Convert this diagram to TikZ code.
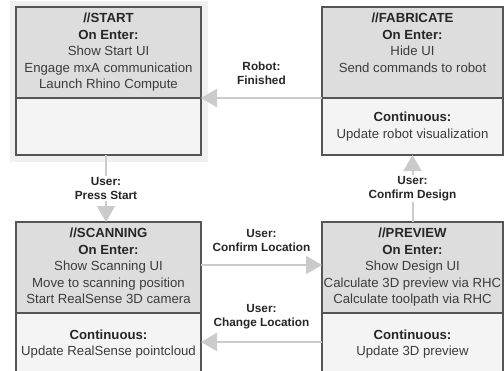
\documentclass[tikz,border=0pt]{standalone}
\usepackage{fontspec}
\setmainfont{Liberation Sans}
\usepackage{tikz}
\usetikzlibrary{arrows.meta}
\usetikzlibrary{positioning}
\usetikzlibrary{fit,backgrounds}

\definecolor{boxline}{HTML}{555555}
\definecolor{enterfill}{HTML}{DDDDDD}
\definecolor{contfill}{HTML}{F4F4F4}
\definecolor{arrowgray}{HTML}{CBCBCB}
\definecolor{inktext}{HTML}{3C3C3C}
\newcommand{\statehead}[1]{{\color{black!85}\bfseries #1}}

\begin{document}
\begin{tikzpicture}[x=1pt,y=-1pt,
  enter part/.style={draw=boxline,fill=enterfill,line width=1.2pt,outer sep=0pt,minimum height=91pt},
  cont part/.style={draw=boxline,fill=contfill,line width=1.2pt,outer sep=0pt,minimum height=57pt,
    text=inktext,align=center,font=\fontsize{13.2}{16.5}\selectfont},
  box text/.style={inner sep=0pt,align=center,text=inktext,font=\fontsize{13.2}{16.5}\selectfont},
  trans/.style={draw=arrowgray,line width=2pt,-{Triangle[length=16pt,width=18pt]}},
  trans label/.style={inner sep=0pt,align=center,text=black!85,font=\fontsize{11.8}{14}\selectfont\bfseries},
  halo/.style={fill=black!6,draw=none}]

  \useasboundingbox (0,0) rectangle (504,370);
  \clip (0,0) rectangle (504,370);

  % states
  \node[enter part,minimum width=185pt] (start) at (108.5,52.5) {};
  \node[cont part,minimum width=185pt] (startc) [below=0pt of start] {};
  \node[enter part,minimum width=181pt] (fab) at (412.5,52.5) {};
  \node[cont part,minimum width=181pt] (fabc) [below=0pt of fab] {\statehead{Continuous:}\\Update robot visualization};
  \node[enter part,minimum width=185pt] (scan) at (108.5,267.5) {};
  \node[cont part,minimum width=185pt,minimum height=62pt] (scanc) [below=0pt of scan] {\statehead{Continuous:}\\Update RealSense pointcloud};
  \node[enter part,minimum width=181pt] (prev) at (412.5,267.5) {};
  \node[cont part,minimum width=181pt,minimum height=62pt] (prevc) [below=0pt of prev] {\statehead{Continuous:}\\Update 3D preview};

  \node[box text] (starttxt) [below=6pt of start.north] {\statehead{//START}\\\statehead{On Enter:}\\Show Start UI\\Engage mxA communication\\Launch Rhino Compute};
  \node[box text] (fabtxt) [below=6pt of fab.north] {\statehead{//FABRICATE}\\\statehead{On Enter:}\\Hide UI\\Send commands to robot};
  \node[box text] (scantxt) [below=6pt of scan.north] {\statehead{//SCANNING}\\\statehead{On Enter:}\\Show Scanning UI\\Move to scanning position\\Start RealSense 3D camera};
  \node[box text] (prevtxt) [below=6pt of prev.north] {\statehead{//PREVIEW}\\\statehead{On Enter:}\\Show Design UI\\Calculate 3D preview via RHC\\Calculate toolpath via RHC};

  % current state
  \begin{scope}[on background layer]
    \node[halo,fit=(start)(startc),inner sep=6.5pt] (active) {};
  \end{scope}

  % transitions
  \draw[trans] (fab.south west) -- node[trans label,above=12.5pt] (robotlbl) {Robot:\\Finished} (start.south east);
  \draw[trans] ([xshift=-2.5pt]startc.south) -- node[trans label,fill=white,inner sep=1.5pt] (startlbl) {User:\\Press Start} ([xshift=-2.5pt]scan.north);
  \draw[trans] ([yshift=2.5pt]scan.east) -- node[trans label,above=12.5pt] (loclbl) {User:\\Confirm Location} ([yshift=2.5pt]prev.west);
  \draw[trans] ([yshift=2pt]prevc.west) -- node[trans label,above=12.5pt] (changelbl) {User:\\Change Location} ([yshift=2pt]scanc.east);
  \draw[trans] (prev.north) -- node[trans label,fill=white,inner sep=1.5pt] (designlbl) {User:\\Confirm Design} (fabc.south);
\end{tikzpicture}
\end{document}
